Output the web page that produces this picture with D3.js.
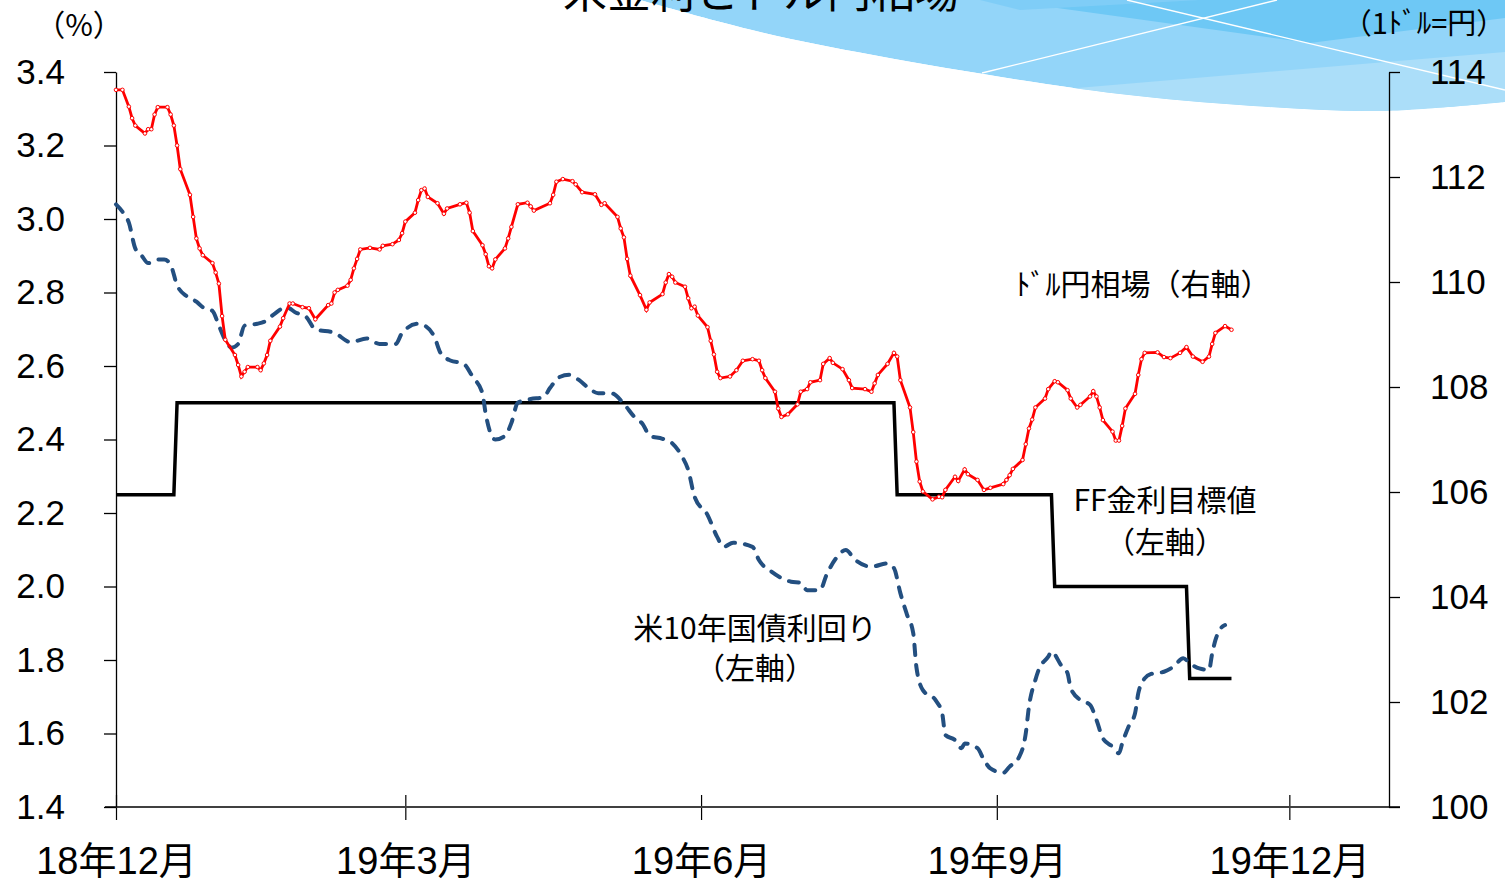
<!DOCTYPE html>
<html>
<head>
<meta charset="utf-8">
<script src="https://cdnjs.cloudflare.com/ajax/libs/d3/7.8.5/d3.min.js"></script>
<style>
body { margin: 0; background: #fff; }
text { font-family: "Liberation Sans", "Noto Sans CJK JP", sans-serif; fill: #000; }
.jp { font-family: "Noto Sans CJK JP", sans-serif; }
</style>
</head>
<body>
<svg id="chart" width="1505" height="881"></svg>
<script>
// --- data (days counted from 2018-12-01) ---
var startDate = new Date(2018, 11, 1);
var endDate = new Date(2020, 0, 1);

var xTickDates = [new Date(2018, 11, 1), new Date(2019, 2, 1), new Date(2019, 5, 1), new Date(2019, 8, 1), new Date(2019, 11, 1)];
var xTickLabels = ["18年12月", "19年3月", "19年6月", "19年9月", "19年12月"];
var leftTicks = [1.4, 1.6, 1.8, 2.0, 2.2, 2.4, 2.6, 2.8, 3.0, 3.2, 3.4];
var rightTicks = [100, 102, 104, 106, 108, 110, 112, 114];

// ドル円相場 (右軸)
var yenDays = [
    0, 2, 4, 5, 6, 9, 10, 11, 12, 13,
    16, 17, 18, 19, 20, 23, 24, 25, 26, 27,
    30, 31, 32, 33, 34, 37, 38, 39, 40, 41,
    44, 45, 46, 47, 48, 51, 52, 54, 55, 58,
    60, 62, 66, 67, 68, 69, 72, 73, 74, 75,
    76, 79, 82, 83, 86, 88, 89, 90, 93, 94,
    95, 96, 97, 100, 102, 103, 107, 109, 110, 111,
    114, 115, 116, 117, 118, 121, 122, 123, 125, 128,
    129, 130, 135, 136, 137, 139, 142, 143, 145, 149,
    151, 152, 156, 157, 158, 159, 160, 163, 165, 166,
    170, 171, 172, 173, 174, 177, 178, 179, 180, 181,
    184, 185, 186, 187, 188, 191, 193, 195, 198, 200,
    201, 202, 205, 206, 207, 209, 212, 213, 215, 216,
    219, 220, 222, 223, 226, 228, 229, 233, 235, 236,
    237, 240, 242, 243, 244, 247, 248, 249, 250, 251,
    254, 256, 257, 258, 261, 262, 264, 265, 268, 270,
    272, 276, 277, 278, 279, 282, 283, 284, 285, 286,
    289, 290, 292, 293, 296, 297, 299, 300, 303, 304,
    305, 306, 307, 310, 311, 312, 313, 314, 317, 318,
    319, 320, 324, 326, 328, 331, 333, 335, 338, 340,
    341, 342, 345, 347
];
var yenValues = [
    113.66, 113.66, 113.34, 113.12, 112.98, 112.83, 112.91, 112.91, 113.19, 113.33,
    113.33, 113.19, 112.98, 112.60, 112.15, 111.66, 111.24, 110.83, 110.64, 110.51,
    110.36, 110.18, 109.97, 109.35, 108.90, 108.61, 108.42, 108.20, 108.29, 108.38,
    108.38, 108.32, 108.45, 108.61, 108.88, 109.15, 109.31, 109.59, 109.59, 109.52,
    109.50, 109.29, 109.56, 109.59, 109.80, 109.85, 109.93, 110.04, 110.26, 110.44,
    110.62, 110.65, 110.62, 110.69, 110.72, 110.80, 110.93, 111.15, 111.32, 111.56,
    111.75, 111.78, 111.62, 111.50, 111.30, 111.40, 111.48, 111.51, 111.32, 110.97,
    110.70, 110.53, 110.30, 110.26, 110.43, 110.64, 110.83, 111.05, 111.48, 111.51,
    111.44, 111.36, 111.50, 111.66, 111.91, 111.96, 111.92, 111.86, 111.71, 111.67,
    111.47, 111.50, 111.24, 111.02, 110.85, 110.44, 110.12, 109.75, 109.47, 109.61,
    109.77, 109.99, 110.15, 110.10, 109.99, 109.91, 109.69, 109.50, 109.53, 109.36,
    109.14, 108.88, 108.62, 108.29, 108.17, 108.20, 108.32, 108.50, 108.53, 108.50,
    108.32, 108.17, 107.91, 107.59, 107.43, 107.48, 107.67, 107.91, 107.96, 108.09,
    108.13, 108.44, 108.55, 108.46, 108.34, 108.13, 107.98, 107.96, 107.91, 108.07,
    108.23, 108.44, 108.65, 108.58, 108.13, 107.61, 107.14, 106.58, 106.20, 106.01,
    105.86, 105.91, 105.90, 106.04, 106.29, 106.21, 106.43, 106.34, 106.23, 106.04,
    106.08, 106.15, 106.23, 106.32, 106.44, 106.61, 106.91, 107.21, 107.38, 107.61,
    107.78, 107.96, 108.11, 108.09, 107.94, 107.78, 107.61, 107.66, 107.82, 107.92,
    107.82, 107.61, 107.37, 107.15, 106.98, 106.98, 107.26, 107.59, 107.87, 108.23,
    108.53, 108.65, 108.66, 108.57, 108.55, 108.65, 108.76, 108.58, 108.48, 108.58,
    108.82, 109.03, 109.16, 109.09
];

// 米10年国債利回り (左軸)
var bondDays = [
    0, 2, 4, 6, 8, 10, 13, 15, 17, 19,
    22, 25, 27, 30, 32, 34, 36, 38, 40, 44,
    46, 49, 53, 56, 59, 62, 68, 73, 78, 82,
    87, 89, 94, 96, 99, 101, 104, 108, 111, 114,
    115, 118, 121, 123, 125, 129, 133, 135, 138, 141,
    144, 147, 150, 154, 158, 161, 164, 166, 170, 173,
    176, 178, 180, 184, 187, 189, 192, 198, 200, 204,
    210, 213, 215, 219, 221, 224, 227, 230, 235, 240,
    242, 244, 246, 248, 249, 251, 255, 257, 258, 261,
    263, 264, 268, 270, 272, 276, 278, 281, 283, 284,
    286, 287, 290, 291, 294, 296, 297, 300, 303, 305,
    307, 310, 312, 313, 315, 317, 318, 320, 322, 326,
    329, 332, 334, 337, 340, 341, 342, 343, 345
];
var bondValues = [
    3.04, 3.02, 2.99, 2.92, 2.90, 2.88, 2.89, 2.89, 2.875, 2.82,
    2.79, 2.775, 2.76, 2.75, 2.71, 2.67, 2.65, 2.66, 2.71, 2.715,
    2.72, 2.74, 2.76, 2.745, 2.735, 2.70, 2.69, 2.665, 2.675, 2.66,
    2.66, 2.69, 2.715, 2.71, 2.68, 2.635, 2.615, 2.607, 2.57, 2.525,
    2.47, 2.40, 2.41, 2.445, 2.50, 2.51, 2.515, 2.54, 2.57, 2.576,
    2.562, 2.54, 2.526, 2.526, 2.497, 2.464, 2.44, 2.41, 2.402, 2.39,
    2.355, 2.317, 2.244, 2.195, 2.135, 2.108, 2.119, 2.108, 2.072, 2.04,
    2.013, 2.01, 1.99, 1.99, 2.031, 2.077, 2.099, 2.072, 2.054, 2.063,
    2.05, 1.982, 1.925, 1.873, 1.78, 1.718, 1.69, 1.655, 1.596, 1.582,
    1.56, 1.573, 1.56, 1.528, 1.505, 1.493, 1.51, 1.537, 1.60, 1.673,
    1.746, 1.773, 1.809, 1.823, 1.786, 1.764, 1.723, 1.691, 1.678, 1.637,
    1.587, 1.564, 1.546, 1.573, 1.619, 1.655, 1.709, 1.75, 1.762, 1.768,
    1.782, 1.805, 1.791, 1.777, 1.773, 1.818, 1.854, 1.877, 1.895
];

// FF金利目標値 (左軸)
var ffDays = [0, 18, 19, 242, 243, 291, 292, 333, 334, 347];
var ffValues = [2.25, 2.25, 2.5, 2.5, 2.25, 2.25, 2.0, 2.0, 1.75, 1.75];

function toPoints(days, values) {
    return days.map(function (d, i) {
        return { date: d3.timeDay.offset(startDate, d), value: values[i] };
    });
}
var yenData = toPoints(yenDays, yenValues);
var bondData = toPoints(bondDays, bondValues);
var ffData = toPoints(ffDays, ffValues);

var W = 1505, H = 881;
var margin = { top: 72, right: 116, bottom: 74, left: 116 },
    width = W - margin.left - margin.right,
    height = H - margin.top - margin.bottom;

var svg = d3.select("#chart");

// decorative swoosh (top right)
var defs = svg.append("defs");
var swooshEdge = [[640, 0], [760, 32], [873, 55], [1020, 80], [1120, 94], [1253, 106], [1380, 111], [1505, 102]];
var edgePath = d3.line().curve(d3.curveCatmullRom)(swooshEdge);
var swooshPath = edgePath + "L1505,0L640,0Z";
defs.append("clipPath").attr("id", "swclip").append("path").attr("d", swooshPath);
var sw = svg.append("g").attr("clip-path", "url(#swclip)");
sw.append("path").attr("d", swooshPath).attr("fill", "#93d5f9");
sw.append("path").attr("d", "M1030,92L1505,52L1505,130L1030,130Z").attr("fill", "#abdef9");
sw.append("path").attr("d", "M1000,0L1310,43L1505,18L1505,0Z").attr("fill", "#6ec8f5");
sw.append("path").attr("d", "M980,0L1020,10L1200,0Z").attr("fill", "#7fcdf7");
sw.append("line").attr("x1", 982).attr("y1", 73).attr("x2", 1277).attr("y2", 0)
    .attr("stroke", "#fff").attr("stroke-width", 1.3);
sw.append("line").attr("x1", 1127).attr("y1", 0).attr("x2", 1505).attr("y2", 90)
    .attr("stroke", "#fff").attr("stroke-width", 1.3);

// title (cut off at top, as in the original)
svg.append("text").attr("class", "jp")
    .attr("x", 761).attr("y", 8)
    .attr("text-anchor", "middle")
    .style("font-size", "44px")
    .text("米金利とドル円相場");

// unit labels
svg.append("text").attr("class", "jp").attr("x", 79).attr("y", 36)
    .attr("text-anchor", "middle").style("font-size", "30px").text("（%）");
svg.append("text").attr("class", "jp").attr("x", 1424).attr("y", 34)
    .attr("text-anchor", "middle").style("font-size", "29px").text("（1ﾄﾞﾙ=円）");

var g = svg.append("g")
    .attr("transform", "translate(" + margin.left + "," + margin.top + ")");

var x = d3.scaleTime().domain([startDate, endDate]).range([0, width]);
var yL = d3.scaleLinear().domain([1.4, 3.4]).range([height, 0]);
var yR = d3.scaleLinear().domain([100, 114]).range([height, 0]);

// x axis
var gx = g.append("g")
    .attr("transform", "translate(0," + height + ")")
    .call(d3.axisBottom(x).tickValues(xTickDates)
        .tickFormat(function (d, i) { return xTickLabels[i]; })
        .tickSize(13).tickSizeOuter(0));
gx.select(".domain").remove();
gx.selectAll(".tick line").attr("y1", -12).attr("y2", 13).attr("stroke", "#000").attr("stroke-width", 1.2);
gx.selectAll(".tick text").attr("y", 67).attr("dy", null).style("font-size", "38px");
gx.append("line").attr("x1", -11).attr("x2", width + 11)
    .attr("stroke", "#404040").attr("stroke-width", 2);

// left axis
var gl = g.append("g")
    .call(d3.axisLeft(yL).tickValues(leftTicks).tickFormat(d3.format(".1f"))
        .tickSize(12).tickPadding(39).tickSizeOuter(0));
gl.selectAll(".tick text").style("font-size", "35px");
gl.selectAll("line, path").attr("stroke-width", 1.3);

// right axis
var gr = g.append("g")
    .attr("transform", "translate(" + width + ",0)")
    .call(d3.axisRight(yR).tickValues(rightTicks)
        .tickSize(11).tickPadding(30).tickSizeOuter(0));
gr.selectAll(".tick text").style("font-size", "35px");
gr.selectAll("line, path").attr("stroke-width", 1.3);

// FF rate
g.append("path")
    .datum(ffData)
    .attr("fill", "none")
    .attr("stroke", "#000")
    .attr("stroke-width", 3.5)
    .attr("d", d3.line().x(d => x(d.date)).y(d => yL(d.value)));

// 10y yield
g.append("path")
    .datum(bondData)
    .attr("fill", "none")
    .attr("stroke", "#234f80")
    .attr("stroke-width", 4)
    .attr("stroke-dasharray", "10,10")
    .attr("stroke-linecap", "round")
    .attr("d", d3.line().curve(d3.curveMonotoneX).x(d => x(d.date)).y(d => yL(d.value)));

// USD/JPY
g.append("path")
    .datum(yenData)
    .attr("fill", "none")
    .attr("stroke", "#ff0000")
    .attr("stroke-width", 2.8)
    .attr("d", d3.line().x(d => x(d.date)).y(d => yR(d.value)));
g.selectAll(".yenpt")
    .data(yenData)
    .join("circle")
    .attr("class", "yenpt")
    .attr("cx", d => x(d.date))
    .attr("cy", d => yR(d.value))
    .attr("r", 1.8)
    .attr("fill", "#fff")
    .attr("stroke", "#ff0000")
    .attr("stroke-width", 1);

// annotations
function note(xp, yp, t) {
    svg.append("text").attr("class", "jp")
        .attr("x", xp).attr("y", yp)
        .attr("text-anchor", "middle")
        .style("font-size", "30px")
        .text(t);
}
note(1143, 295, "ﾄﾞﾙ円相場（右軸）");
note(1165, 511, "FF金利目標値");
note(1165, 553, "（左軸）");
note(755, 639, "米10年国債利回り");
note(755, 679, "（左軸）");
</script>
</body>
</html>
